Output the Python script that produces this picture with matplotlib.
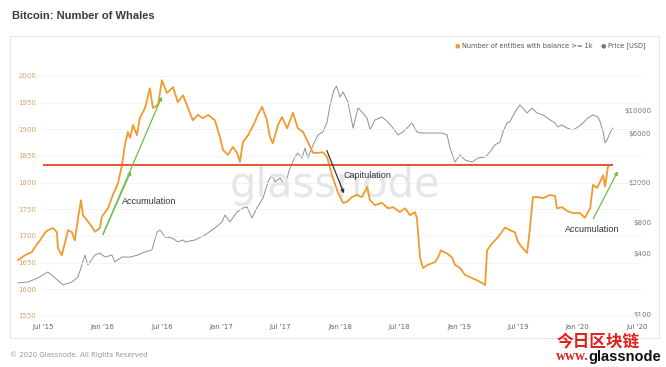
import matplotlib
matplotlib.use("Agg")
from matplotlib import pyplot as plt, dates as mdates, patches
import pandas as pd

# number of entities holding >= 1k BTC
whale_dates = [
    "2015-04-15", "2015-05-07", "2015-05-28", "2015-06-06", "2015-06-22", "2015-07-07",
    "2015-07-16", "2015-08-01", "2015-08-13", "2015-08-16", "2015-08-28", "2015-09-07",
    "2015-09-16", "2015-09-28", "2015-10-07", "2015-10-17", "2015-10-26", "2015-11-01",
    "2015-11-13", "2015-11-29", "2015-12-08", "2015-12-23", "2015-12-29", "2016-01-17",
    "2016-02-01", "2016-02-17", "2016-02-29", "2016-03-09", "2016-03-18", "2016-03-25",
    "2016-04-03", "2016-04-15", "2016-04-24", "2016-05-10", "2016-05-25", "2016-06-03",
    "2016-06-19", "2016-07-01", "2016-07-16", "2016-08-04", "2016-08-19", "2016-09-04",
    "2016-09-19", "2016-10-04", "2016-10-20", "2016-11-04", "2016-11-20", "2016-12-11",
    "2016-12-26", "2017-01-05", "2017-01-20", "2017-02-04", "2017-02-17", "2017-02-26",
    "2017-03-07", "2017-03-23", "2017-04-13", "2017-04-22", "2017-05-05", "2017-05-20",
    "2017-05-29", "2017-06-07", "2017-06-23", "2017-07-05", "2017-07-21", "2017-08-08",
    "2017-08-23", "2017-09-08", "2017-09-23", "2017-10-09", "2017-10-24", "2017-11-08",
    "2017-11-21", "2017-12-06", "2017-12-24", "2018-01-09", "2018-01-21", "2018-02-05",
    "2018-02-21", "2018-03-08", "2018-03-24", "2018-04-02", "2018-04-17", "2018-05-09",
    "2018-05-27", "2018-06-12", "2018-07-03", "2018-07-19", "2018-08-03", "2018-08-18",
    "2018-08-24", "2018-09-03", "2018-09-12", "2018-09-27", "2018-10-19", "2018-10-28",
    "2018-11-06", "2018-11-25", "2018-12-10", "2018-12-19", "2019-01-04", "2019-01-19",
    "2019-02-10", "2019-02-25", "2019-03-12", "2019-03-22", "2019-03-28", "2019-04-12",
    "2019-05-01", "2019-05-16", "2019-05-22", "2019-06-06", "2019-06-22", "2019-07-01",
    "2019-07-13", "2019-07-29", "2019-08-07", "2019-08-16", "2019-09-01", "2019-09-16",
    "2019-10-08", "2019-10-23", "2019-10-29", "2019-11-13", "2019-11-29", "2019-12-17",
    "2020-01-08", "2020-01-23", "2020-02-08", "2020-02-17", "2020-02-29", "2020-03-09",
    "2020-03-19", "2020-03-25", "2020-04-03", "2020-04-15",
]
whale_counts = [
    1655, 1664, 1670, 1679, 1692, 1706,
    1711, 1715, 1707, 1677, 1664, 1688,
    1711, 1707, 1692, 1734, 1767, 1739,
    1730, 1717, 1708, 1715, 1736, 1752,
    1777, 1799, 1833, 1871, 1895, 1884,
    1908, 1889, 1921, 1940, 1977, 1940,
    1946, 1992, 1968, 1979, 1951, 1964,
    1940, 1917, 1927, 1921, 1927, 1917,
    1886, 1861, 1852, 1867, 1856, 1839,
    1876, 1889, 1914, 1927, 1942, 1917,
    1886, 1874, 1908, 1923, 1902, 1931,
    1902, 1895, 1876, 1856, 1856, 1857,
    1848, 1814, 1782, 1762, 1764, 1773,
    1777, 1773, 1792, 1767, 1758, 1762,
    1752, 1754, 1745, 1752, 1739, 1745,
    1734, 1659, 1640, 1646, 1651, 1660,
    1673, 1667, 1660, 1646, 1640, 1627,
    1621, 1617, 1612, 1608, 1673, 1686,
    1698, 1711, 1716, 1711, 1707, 1689,
    1679, 1668, 1715, 1773, 1773, 1771,
    1777, 1775, 1752, 1754, 1747, 1743,
    1743, 1734, 1752, 1796, 1790, 1801,
    1814, 1793, 1831, 1834,
]

# BTC price in USD (log scale, right axis)
price_dates = [
    "2015-04-15", "2015-05-16", "2015-06-16", "2015-07-16", "2015-08-07", "2015-09-01",
    "2015-09-28", "2015-10-17", "2015-11-07", "2015-11-16", "2015-12-08", "2015-12-23",
    "2016-01-08", "2016-01-29", "2016-02-07", "2016-02-29", "2016-03-25", "2016-04-18",
    "2016-05-10", "2016-05-31", "2016-06-16", "2016-06-25", "2016-07-10", "2016-08-01",
    "2016-08-19", "2016-09-04", "2016-09-10", "2016-10-11", "2016-11-10", "2016-12-11",
    "2017-01-02", "2017-01-11", "2017-01-26", "2017-02-17", "2017-03-07", "2017-03-20",
    "2017-04-04", "2017-04-19", "2017-05-08", "2017-05-23", "2017-06-04", "2017-06-14",
    "2017-06-29", "2017-07-14", "2017-07-30", "2017-08-14", "2017-08-23", "2017-09-05",
    "2017-09-14", "2017-09-23", "2017-10-09", "2017-10-24", "2017-11-08", "2017-11-21",
    "2017-11-30", "2017-12-12", "2017-12-20", "2017-12-31", "2018-01-09", "2018-01-24",
    "2018-01-30", "2018-02-09", "2018-02-24", "2018-03-08", "2018-03-24", "2018-04-02",
    "2018-04-17", "2018-05-09", "2018-05-27", "2018-06-12", "2018-06-27", "2018-07-12",
    "2018-07-28", "2018-08-09", "2018-08-24", "2018-09-09", "2018-10-10", "2018-11-09",
    "2018-11-25", "2018-12-04", "2018-12-19", "2019-01-04", "2019-01-19", "2019-02-10",
    "2019-02-28", "2019-03-22", "2019-04-06", "2019-04-21", "2019-05-07", "2019-05-16",
    "2019-05-28", "2019-06-06", "2019-06-22", "2019-07-07", "2019-07-16", "2019-07-29",
    "2019-08-13", "2019-08-29", "2019-09-16", "2019-10-08", "2019-10-23", "2019-11-01",
    "2019-11-13", "2019-11-29", "2019-12-17", "2020-01-02", "2020-01-17", "2020-02-01",
    "2020-02-17", "2020-03-03", "2020-03-10", "2020-03-19", "2020-03-25", "2020-03-31",
    "2020-04-09", "2020-04-18",
]
price_usd = [
    206, 211, 231, 264, 231, 197,
    211, 236, 387, 309, 387, 405,
    370, 387, 331, 370, 370, 387,
    415, 434, 651, 681, 582, 569,
    520, 544, 520, 544, 608, 713,
    816, 955, 816, 1024, 1120, 1145,
    893, 1120, 1403, 2013, 2359, 2013,
    2203, 1882, 2761, 3538, 3873, 3459,
    4335, 3459, 4645, 5822, 6225, 7800,
    11450, 16070, 17500, 13700, 15350, 12240,
    9780, 6800, 10690, 9780, 8530, 6520,
    8160, 8730, 7800, 6800, 5820, 6225,
    6970, 7630, 6225, 6080, 6080, 6080,
    5820, 4335, 3160, 3700, 3310, 3160,
    3459, 3538, 3963, 4645, 4970, 6225,
    7630, 7800, 9780, 11450, 10690, 9550,
    10690, 9550, 9140, 8160, 7630, 6970,
    7300, 6800, 6520, 6970, 7630, 8530,
    9140, 8730, 7800, 6225, 4850, 5200,
    6080, 6800,
]

left_ticks = [1550, 1600, 1650, 1700, 1750, 1800, 1850, 1900, 1950, 2000]
right_ticks = [100, 400, 800, 2000, 6000, 10000]
right_labels = ["$100", "$400", "$800", "$2000", "$6000", "$10000"]
x_ticks = ["2015-07-01", "2016-01-01", "2016-07-01", "2017-01-01", "2017-07-01", "2018-01-01",
           "2018-07-01", "2019-01-01", "2019-07-01", "2020-01-01", "2020-07-01"]
x_labels = ["Jul '15", "Jan '16", "Jul '16", "Jan '17", "Jul '17", "Jan '18",
            "Jul '18", "Jan '19", "Jul '19", "Jan '20", "Jul '20"]
level = 1834
level_span = ["2015-07-01", "2020-04-18"]

orange = "#f29a2e"
W, H = 666, 367

fig = plt.figure(figsize=(W / 100, H / 100), dpi=100)
fig.patch.set_facecolor("white")

# chart panel frame
fig.add_artist(patches.Rectangle((10 / W, 1 - 338 / H), 649 / W, 302 / H,
                                 transform=fig.transFigure, fill=False,
                                 edgecolor="#e6e6e6", linewidth=0.8))

ax = fig.add_axes([15 / W, 1 - 320 / H, 633 / W, 260 / H])
ax2 = ax.twinx()
ax.set_zorder(ax2.get_zorder() + 1)
ax.patch.set_visible(False)

wd = pd.to_datetime(whale_dates)
pdates = pd.to_datetime(price_dates)

ax2.plot(pdates, price_usd, color="#909090", linewidth=0.7)
ax2.set_yscale("log")
ax2.set_ylim(89.3, 31600)
ax2.set_yticks(right_ticks)
ax2.set_yticklabels(right_labels)
ax2.minorticks_off()
ax2.tick_params(axis="y", length=0, pad=2.2, labelsize=5, labelcolor="#777777")
for lab in ax2.get_yticklabels():
    lab.set_horizontalalignment("right")

ax.plot(wd, whale_counts, color=orange, linewidth=1.3, zorder=3)
ax.set_ylim(1542.5, 2030)
ax.set_xlim(pd.Timestamp("2015-04-06"), pd.Timestamp("2020-08-04"))
ax.set_yticks(left_ticks)
ax.tick_params(axis="y", length=0, pad=-2.2, labelsize=5, labelcolor="#d9a45c")
for lab in ax.get_yticklabels():
    lab.set_horizontalalignment("left")
ax.hlines(left_ticks, 0.04, 0.99, transform=ax.get_yaxis_transform(),
          color="#f2f2f2", linewidth=0.6, zorder=0)

ax.set_xticks(pd.to_datetime(x_ticks))
ax.set_xticklabels(x_labels)
ax.tick_params(axis="x", length=0, pad=3, labelsize=5, labelcolor="#666666")

for a in (ax, ax2):
    for s in a.spines.values():
        s.set_visible(False)

# threshold line
ax.hlines(level, pd.Timestamp(level_span[0]), pd.Timestamp(level_span[1]),
          color="#e8552f", linewidth=1.4, zorder=4)

# watermark
ax.text(0.505, 0.52, "glassnode", transform=ax.transAxes, fontsize=30,
        color="#e6e6e6", ha="center", va="center", family="DejaVu Sans", zorder=0)

# annotations
green = "#6cc04a"
arrow_g = dict(arrowstyle="-|>", color=green, lw=0.9, mutation_scale=5)
ax.annotate("", xy=(pd.Timestamp("2016-07-04"), 1966), xytext=(pd.Timestamp("2015-12-29"), 1698),
            arrowprops=arrow_g, zorder=5)
ax.annotate("", xy=(pd.Timestamp("2016-03-31"), 1826), xytext=(pd.Timestamp("2015-12-29"), 1698),
            arrowprops=arrow_g, zorder=5)
ax.text(pd.Timestamp("2016-02-29"), 1764, "Accumulation", fontsize=6.5,
        family="Liberation Sans", color="#333333", va="center", zorder=5)

ax.annotate("", xy=(pd.Timestamp("2018-01-15"), 1775), xytext=(pd.Timestamp("2017-11-17"), 1865),
            arrowprops=dict(arrowstyle="-|>", color="#333333", lw=0.9, mutation_scale=5), zorder=5)
ax.text(pd.Timestamp("2018-01-09"), 1814, "Capitulation", fontsize=6.5,
        family="Liberation Sans", color="#333333", va="center", zorder=5)

ax.annotate("", xy=(pd.Timestamp("2020-05-07"), 1826), xytext=(pd.Timestamp("2020-02-14"), 1728),
            arrowprops=arrow_g, zorder=5)
ax.text(pd.Timestamp("2020-02-14"), 1712, "Accumulation", fontsize=6.5,
        family="Liberation Sans", color="#333333", va="center", ha="center", zorder=5)

# title, legend, footer
fig.text(12 / W, 1 - 16 / H, "Bitcoin: Number of Whales", fontsize=8, weight="bold",
         family="Liberation Sans", color="#3a3a3a", va="center")
fig.text(457 / W, 1 - 46 / H, "\u25cf", fontsize=4.5, color=orange, va="center", ha="center")
fig.text(462 / W, 1 - 46 / H, "Number of entities with balance >= 1k", fontsize=4.8,
         color="#555555", va="center")
fig.text(603 / W, 1 - 46 / H, "\u25cf", fontsize=4.5, color="#777777", va="center", ha="center")
fig.text(608 / W, 1 - 46 / H, "Price [USD]", fontsize=4.8, color="#555555", va="center")
fig.text(10 / W, 1 - 355 / H, "\u00a9 2020 Glassnode. All Rights Reserved", fontsize=5,
         color="#999999", va="center")

# site watermark in the corner
fig.text(598 / W, 1 - 341 / H, "今日区块链", fontsize=12, weight="bold",
         family=["Noto Sans CJK SC", "DejaVu Sans"], color="#e3201b", ha="center", va="center")
fig.text(556 / W, 1 - 357 / H, "www.", fontsize=10, weight="bold", family="Liberation Serif",
         color="#e3201b", va="center")
fig.text(661 / W, 1 - 357 / H, "glassnode", fontsize=10.5, weight="bold",
         family="Liberation Sans", color="#111111", va="center", ha="right")

plt.savefig("out.png", dpi=100)
